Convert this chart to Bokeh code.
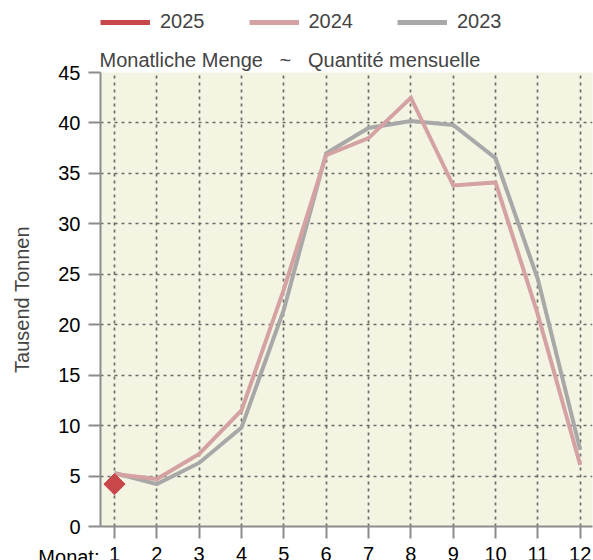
import math
from bokeh.plotting import figure
from bokeh.models import Legend, LegendItem, FixedTicker, Range1d
from bokeh.layouts import column
from bokeh.core.properties import value
from bokeh.embed import file_html
from bokeh.resources import INLINE

months = [1, 2, 3, 4, 5, 6, 7, 8, 9, 10, 11, 12]
month_labels = [str(m) for m in months]
v2023 = [5.3, 4.2, 6.3, 9.8, 21.5, 37.0, 39.5, 40.2, 39.8, 36.5, 24.5, 7.6]
v2024 = [5.2, 4.7, 7.2, 11.5, 23.5, 36.8, 38.5, 42.5, 33.8, 34.1, 21.0, 6.1]
m2025 = [1]
v2025 = [4.2]
yticks = [0, 5, 10, 15, 20, 25, 30, 35, 40, 45]
series_names = ["2025", "2024", "2023"]
title_text = "Monatliche Menge\u00a0\u00a0 ~ \u00a0\u00a0Quantité mensuelle"
ylabel_text = "Tausend Tonnen"
xlabel_text = "Monat:"

C25, C24, C23 = "#c8474b", "#d4a2a2", "#a8a8a8"
FONT = "Liberation Sans"
FS = "20px"
W = 593
LEFT, RIGHT = 100, 1
HEAD_H, MAIN_H, FOOT_H = 40, 500, 20
X0, X1 = 0.67, 12.29
AXIS_C = "#8c8c8c"
MONAT_POS = 0.7
LABEL_POS = 0.35

# ---------- header with the legend (frames are aligned by the column) ----------
head = figure(width=W, height=HEAD_H, output_backend="svg", toolbar_location=None,
              x_range=Range1d(-2, -1), y_range=Range1d(-2, -1),
              min_border_left=LEFT, min_border_right=RIGHT, min_border_top=0,
              min_border_bottom=0)
head.axis.visible = False
head.grid.visible = False
head.outline_line_color = None
h25 = head.line(months, v2023, color=C25, line_width=5)
h24 = head.line(months, v2024, color=C24, line_width=5)
h23 = head.line(months, v2023, color=C23, line_width=5)
legend = Legend(items=[LegendItem(label=series_names[0], renderers=[h25]),
                       LegendItem(label=series_names[1], renderers=[h24]),
                       LegendItem(label=series_names[2], renderers=[h23])],
                orientation="horizontal", location=(0, 7),
                label_text_font=FONT, label_text_font_size=FS,
                glyph_width=50, glyph_height=20, spacing=44, padding=0,
                margin=0, label_standoff=10, border_line_color=None,
                background_fill_alpha=0)
head.add_layout(legend)

# ---------- main chart ----------
p = figure(width=W, height=MAIN_H, output_backend="svg", toolbar_location=None,
           x_range=Range1d(X0, X1), y_range=Range1d(0, 45),
           min_border_left=LEFT, min_border_right=RIGHT,
           min_border_top=72 - HEAD_H, min_border_bottom=14)

p.background_fill_color = "#f4f4e3"
p.border_fill_color = "white"
p.outline_line_color = None

p.line(months, v2023, color=C23, line_width=4, line_join="miter")
p.line(months, v2024, color=C24, line_width=4, line_join="miter")
p.scatter(m2025, v2025, marker="square", size=15, angle=math.pi / 4, color=C25)

for ax in (p.xaxis, p.yaxis):
    ax.axis_line_color = AXIS_C
    ax.axis_line_width = 2
    ax.major_tick_line_color = AXIS_C
    ax.major_tick_line_width = 2
    ax.major_tick_out = 12
    ax.major_tick_in = 0
    ax.minor_tick_line_color = None
    ax.major_label_text_font = FONT
    ax.major_label_text_font_size = FS
    ax.major_label_text_color = "black"

p.xaxis.ticker = FixedTicker(ticks=months)
p.xaxis.major_label_text_color = None
p.xaxis.major_label_text_font_size = "1px"
p.xaxis.major_label_standoff = 0
p.yaxis.ticker = FixedTicker(ticks=yticks)
p.yaxis.major_label_standoff = 8
p.yaxis.axis_label = ylabel_text
p.yaxis.axis_label_text_font = FONT
p.yaxis.axis_label_text_font_size = FS
p.yaxis.axis_label_text_font_style = "normal"
p.yaxis.axis_label_standoff = 22

for g in (p.xgrid, p.ygrid):
    g.grid_line_color = "#6a6a6a"
    g.grid_line_dash = "3 4"
    g.grid_line_width = 1.7
p.xgrid.ticker = FixedTicker(ticks=months)
p.ygrid.ticker = FixedTicker(ticks=yticks)

p.title.text = title_text
p.title.text_font = FONT
p.title.text_font_size = FS
p.title.text_font_style = "normal"
p.title.text_line_height = 1.4
p.title.align = "left"
p.title.vertical_align = "top"
p.title.offset = -1
p.title.standoff = 0

# ---------- footer with month labels ----------
foot = figure(width=W, height=FOOT_H, output_backend="svg", toolbar_location=None,
              x_range=p.x_range, y_range=Range1d(0, 1),
              min_border_left=LEFT, min_border_right=RIGHT, min_border_top=0,
              min_border_bottom=0)
foot.xaxis.visible = False
foot.grid.visible = False
foot.outline_line_color = None
foot.yaxis.ticker = FixedTicker(ticks=[MONAT_POS])
foot.yaxis.major_label_overrides = {MONAT_POS: xlabel_text}
foot.yaxis.axis_line_color = None
foot.yaxis.major_tick_line_color = None
foot.yaxis.minor_tick_line_color = None
foot.yaxis.major_tick_out = 0
foot.yaxis.major_label_standoff = 1
foot.yaxis.major_label_text_font = FONT
foot.yaxis.major_label_text_font_size = FS
foot.yaxis.major_label_text_color = "black"
foot.text(x=months, y=[LABEL_POS] * len(months), text=month_labels,
          text_font=value(FONT), text_font_size=value(FS), text_align="center",
          text_baseline="alphabetic", text_color="black")

layout = column(head, p, foot, spacing=0)
open("out.html", "w").write(file_html(layout, INLINE))
